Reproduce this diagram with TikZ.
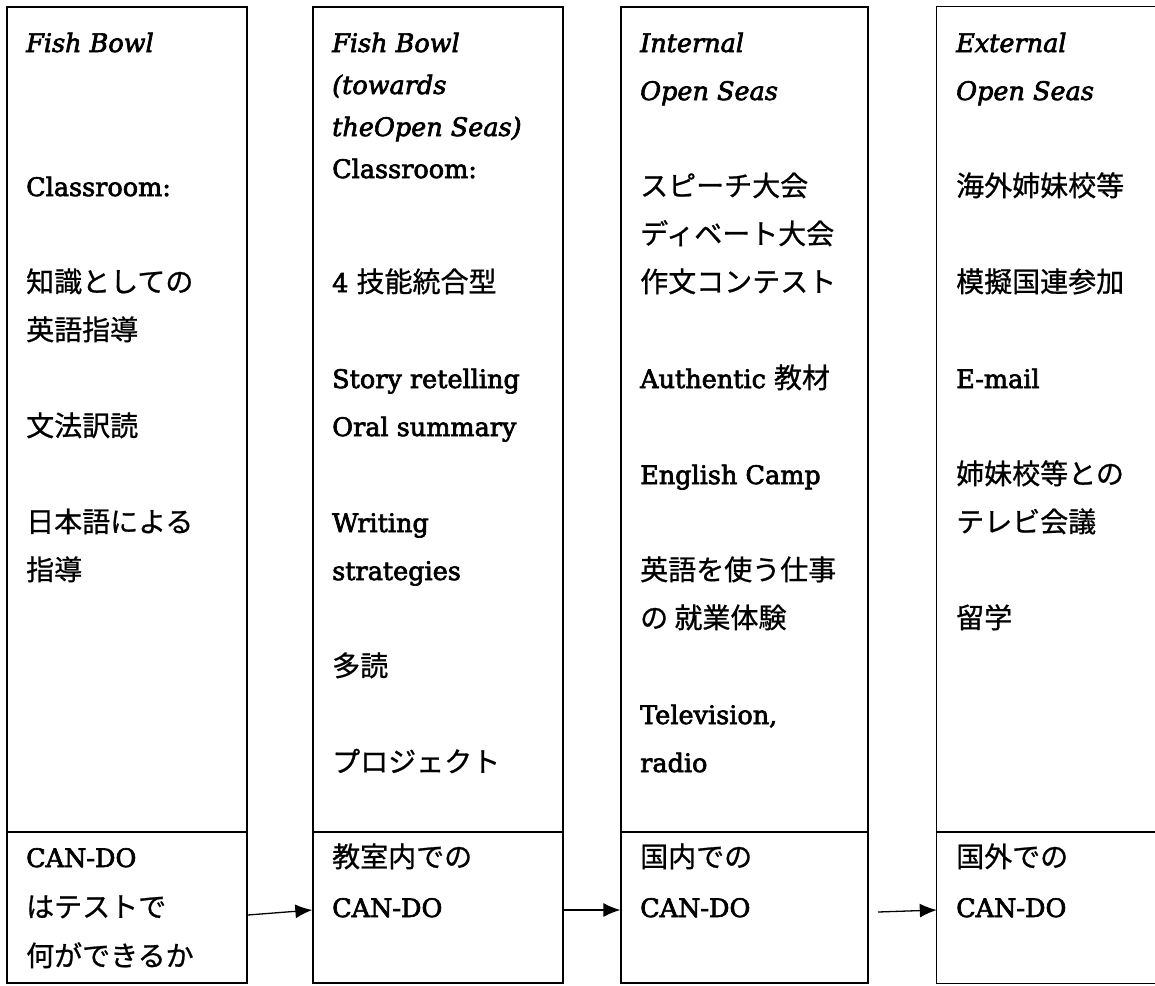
\documentclass[tikz,border=0pt]{standalone}
\usepackage{fontspec}
\setmainfont{DejaVu Serif}[RawFeature={embolden=2.6}]
\newfontfamily\JPfont{Noto Sans CJK JP}[RawFeature={embolden=0.8}]
\newcommand\JP[1]{{\fontsize{28}{34}\selectfont\JPfont #1}}
\usetikzlibrary{arrows.meta}
\begin{document}
\begin{tikzpicture}[x=1pt,y=-1pt,
  every node/.style={font=\fontsize{25.5}{30}\selectfont},
  box/.style={draw, line width=1.3pt, rectangle, inner sep=0pt, minimum height=976pt},
  openbox/.style={rectangle, inner sep=0pt, minimum height=976pt},
  line/.style={line width=1.3pt},
  arr/.style={line width=1.3pt, -{Latex[length=17pt,width=14pt]}},
  tx/.style={anchor=base west, inner sep=0pt}]
\useasboundingbox (0,0) rectangle (1155,985);
% boxes
\node[box, minimum width=240pt] (col1) at (127,495) {};
\node[box, minimum width=250pt] (col2) at (438,495) {};
\node[box, minimum width=247pt] (col3) at (744.5,495) {};
\node[openbox, minimum width=223pt] (col4) at (1048.5,495) {};
\draw[line] (col4.north east) -| (col4.south west) -- (col4.south east);
% dividers
\coordinate (dv) at (0,832);
\draw[line] (col1.west |- dv) -- (col1.east |- dv);
\draw[line] (col2.west |- dv) -- (col2.east |- dv);
\draw[line] (col3.west |- dv) -- (col3.east |- dv);
\draw[line] (col4.west |- dv) -- (col4.east |- dv);
% arrows
\coordinate (ya) at (0,915);
\coordinate (yb) at (0,910);
\coordinate (a3s) at (878,912);
\draw[arr] (col1.east |- ya) -- (col2.west |- yb);
\draw[arr] (col2.east |- yb) -- (col3.west |- yb);
\draw[arr] (a3s) -- (col4.west |- yb);
% column 1
\node[tx] (t11) at (26,52) {\itshape Fish Bowl};
\node[tx] (t12) at (26,196) {Classroom:};
\node[tx] (t13) at (26,292) {\JP{知識としての}};
\node[tx] (t14) at (26,340) {\JP{英語指導}};
\node[tx] (t15) at (26,436) {\JP{文法訳読}};
\node[tx] (t16) at (26,532) {\JP{日本語による}};
\node[tx] (t17) at (26,580) {\JP{指導}};
\node[tx] (b11) at (26,867) {CAN-DO};
\node[tx] (b12) at (26,917) {\JP{はテストで}};
\node[tx] (b13) at (26,966) {\JP{何ができるか}};
% column 2
\node[tx] (t21) at (332,52) {\itshape Fish Bowl};
\node[tx] (t22) at (332,94) {\itshape (towards};
\node[tx] (t23) at (332,136) {\itshape theOpen Seas)};
\node[tx] (t24) at (332,178) {Classroom:};
\node[tx] (t25) at (332,292) {4 \JP{技能統合型}};
\node[tx] (t26) at (332,388) {Story retelling};
\node[tx] (t27) at (332,436) {Oral summary};
\node[tx] (t28) at (332,532) {Writing};
\node[tx] (t29) at (332,580) {strategies};
\node[tx] (t2a) at (332,676) {\JP{多読}};
\node[tx] (t2b) at (332,772) {\JP{プロジェクト}};
\node[tx] (b21) at (332,867) {\JP{教室内での}};
\node[tx] (b22) at (332,917) {CAN-DO};
% column 3
\node[tx] (t31) at (640,52) {\itshape Internal};
\node[tx] (t32) at (640,100) {\itshape Open Seas};
\node[tx] (t33) at (640,196) {\JP{スピーチ大会}};
\node[tx] (t34) at (640,244) {\JP{ディベート大会}};
\node[tx] (t35) at (640,292) {\JP{作文コンテスト}};
\node[tx] (t36) at (640,388) {Authentic \JP{教材}};
\node[tx] (t37) at (640,484) {English Camp};
\node[tx] (t38) at (640,580) {\JP{英語を使う仕事}};
\node[tx] (t39) at (640,628) {\JP{の 就業体験}};
\node[tx] (t3a) at (640,724) {Television,};
\node[tx] (t3b) at (640,772) {radio};
\node[tx] (b31) at (640,867) {\JP{国内での}};
\node[tx] (b32) at (640,917) {CAN-DO};
% column 4
\node[tx] (t41) at (956,52) {\itshape External};
\node[tx] (t42) at (956,100) {\itshape Open Seas};
\node[tx] (t43) at (956,196) {\JP{海外姉妹校等}};
\node[tx] (t44) at (956,292) {\JP{模擬国連参加}};
\node[tx] (t45) at (956,388) {E-mail};
\node[tx] (t46) at (956,484) {\JP{姉妹校等との}};
\node[tx] (t47) at (956,532) {\JP{テレビ会議}};
\node[tx] (t48) at (956,628) {\JP{留学}};
\node[tx] (b41) at (956,867) {\JP{国外での}};
\node[tx] (b42) at (956,917) {CAN-DO};
\end{tikzpicture}
\end{document}
